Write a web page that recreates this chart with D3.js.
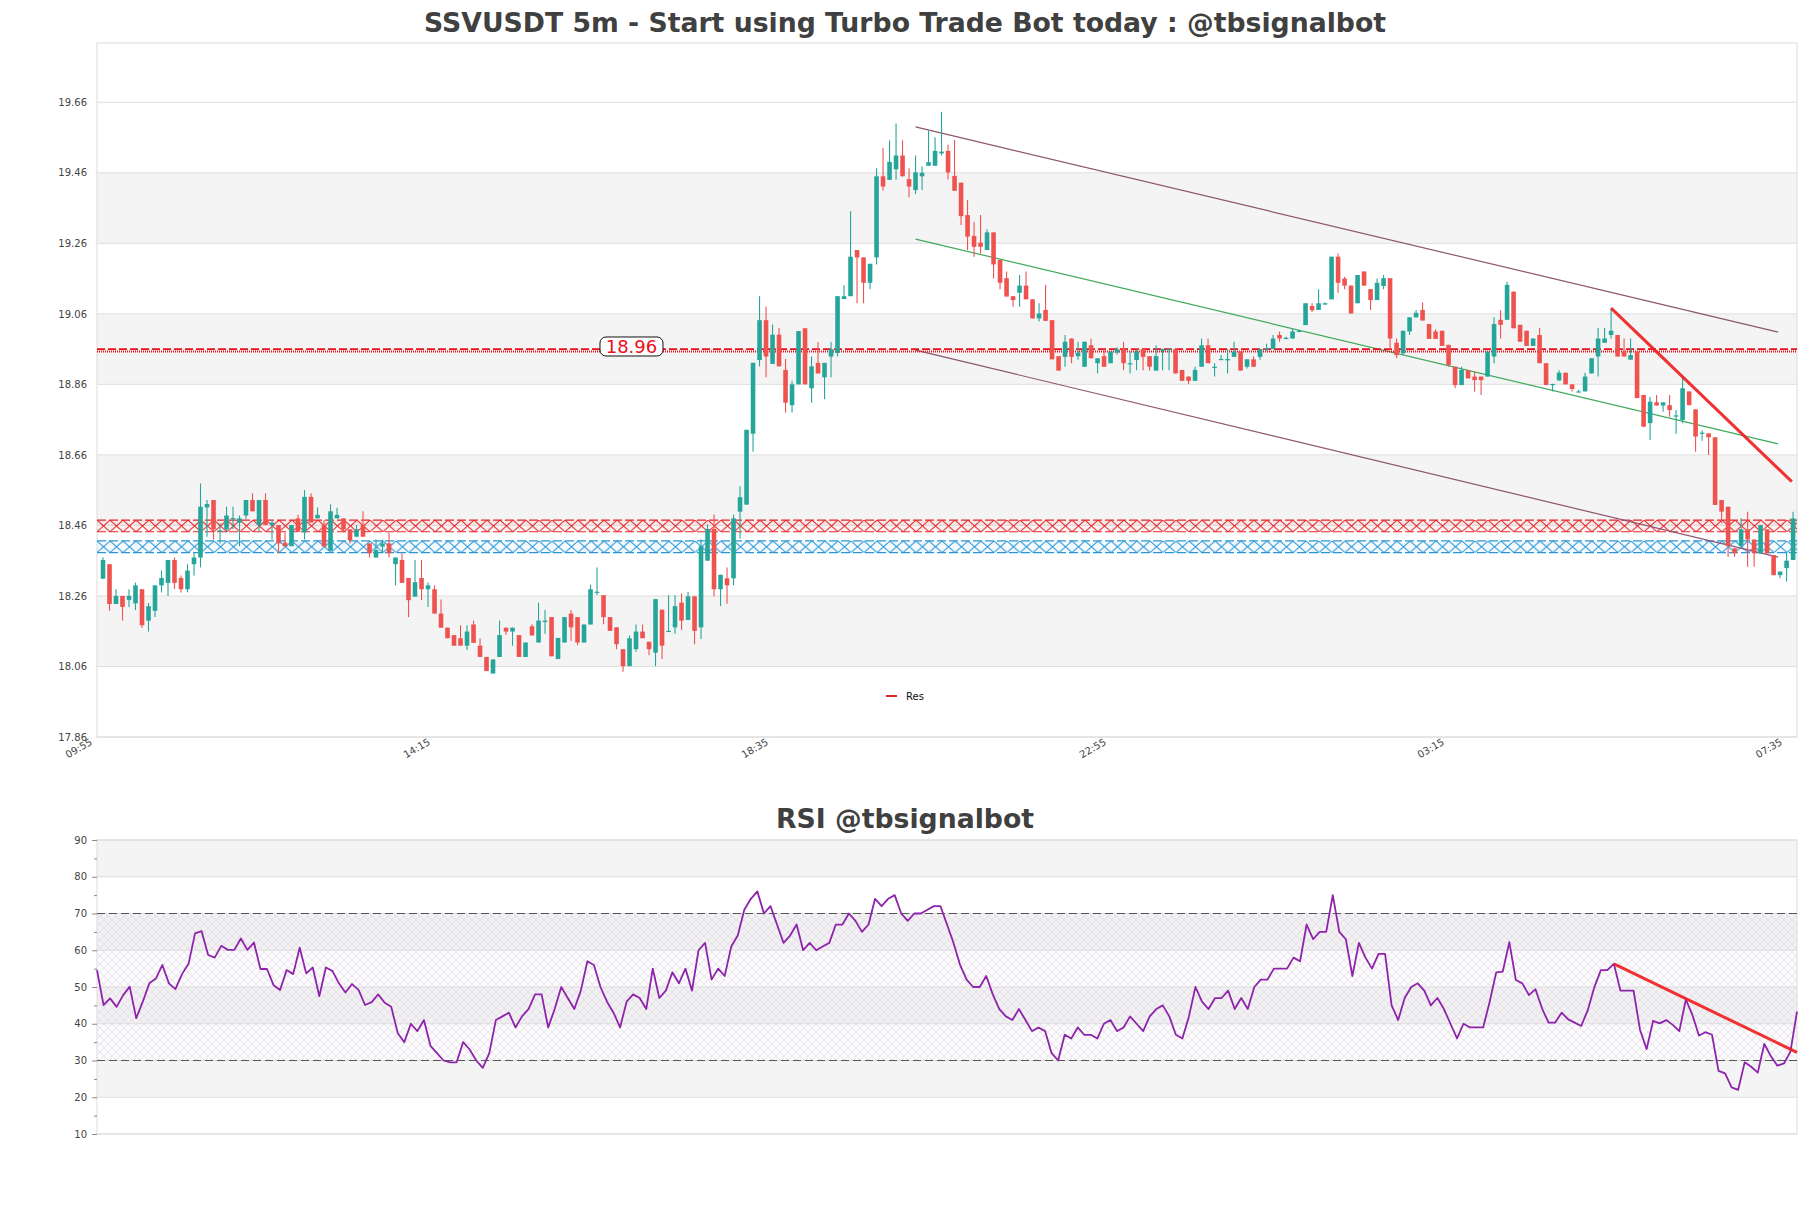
<!DOCTYPE html>
<html><head><meta charset="utf-8">
<script src="https://cdn.jsdelivr.net/npm/d3@7"></script>
<style>body{margin:0;background:#fff}svg{display:block}text{font-family:"DejaVu Sans",sans-serif}</style>
</head><body><svg id="c" width="1811" height="1208"></svg>
<script>
// ---------------- DATA ----------------
const opens = [
18.309,18.350,18.237,18.260,18.249,18.239,18.279,18.190,18.218,18.290,
18.297,18.362,18.311,18.279,18.350,18.369,18.511,18.532,18.443,18.449,
18.478,18.468,18.488,18.532,18.461,18.532,18.461,18.461,18.411,18.401,
18.480,18.440,18.541,18.480,18.461,18.388,18.480,18.480,18.449,18.428,
18.461,18.409,18.369,18.400,18.409,18.350,18.362,18.311,18.258,18.311,
18.279,18.279,18.210,18.170,18.149,18.140,18.119,18.179,18.119,18.087,
18.040,18.087,18.170,18.159,18.149,18.087,18.174,18.128,18.186,18.200,
18.081,18.128,18.210,18.200,18.128,18.179,18.270,18.262,18.200,18.171,
18.109,18.061,18.109,18.159,18.130,18.099,18.221,18.160,18.171,18.241,
18.192,18.259,18.171,18.360,18.450,18.279,18.310,18.310,18.499,18.519,
18.720,18.929,19.042,18.918,19.001,18.901,18.801,18.860,19.019,18.849,
18.921,18.880,18.939,18.949,19.102,19.110,19.241,19.220,19.148,19.220,
19.450,19.440,19.470,19.509,19.442,19.411,19.450,19.480,19.480,19.515,
19.522,19.451,19.432,19.340,19.281,19.262,19.241,19.291,19.213,19.161,
19.110,19.120,19.140,19.101,19.047,19.071,19.042,18.940,18.938,18.990,
18.940,18.910,18.971,18.920,18.940,18.920,18.950,18.960,18.918,18.929,
18.960,18.940,18.899,18.955,18.957,18.960,18.901,18.882,18.870,18.910,
18.971,18.908,18.930,18.928,18.938,18.953,18.910,18.931,18.938,18.960,
18.960,19.000,18.990,18.990,19.010,19.028,19.082,19.071,19.089,19.101,
19.222,19.160,19.140,19.090,19.180,19.130,19.099,19.139,19.161,18.978,
18.948,19.010,19.050,19.071,19.031,19.010,19.012,18.972,18.910,18.858,
18.900,18.882,18.882,18.882,18.939,19.043,19.043,19.123,19.029,19.012,
18.969,19.000,18.920,18.858,18.871,18.893,18.860,18.838,18.840,18.891,
18.939,18.978,19.000,19.000,18.953,18.930,18.953,18.830,18.750,18.809,
18.800,18.801,18.771,18.759,18.840,18.789,18.722,18.721,18.710,18.532,
18.513,18.395,18.402,18.449,18.420,18.381,18.449,18.376,18.319,18.339,
18.362];
const highs = [
18.369,18.350,18.279,18.260,18.279,18.298,18.279,18.240,18.290,18.332,
18.362,18.369,18.318,18.350,18.381,18.579,18.532,18.532,18.466,18.513,
18.513,18.488,18.532,18.551,18.532,18.551,18.475,18.461,18.440,18.461,
18.490,18.560,18.551,18.511,18.475,18.520,18.510,18.480,18.449,18.461,
18.500,18.409,18.420,18.420,18.440,18.369,18.381,18.311,18.362,18.362,
18.298,18.290,18.250,18.170,18.149,18.177,18.177,18.190,18.140,18.087,
18.080,18.190,18.170,18.170,18.149,18.128,18.180,18.241,18.220,18.200,
18.141,18.200,18.220,18.200,18.179,18.292,18.341,18.262,18.200,18.171,
18.109,18.148,18.179,18.179,18.130,18.251,18.221,18.262,18.262,18.267,
18.272,18.259,18.421,18.463,18.491,18.320,18.341,18.491,18.571,18.731,
18.921,19.110,19.081,19.030,19.020,18.932,18.870,19.011,19.019,18.939,
18.980,18.921,18.980,19.110,19.141,19.351,19.241,19.220,19.202,19.473,
19.530,19.552,19.600,19.552,19.473,19.509,19.478,19.579,19.561,19.633,
19.540,19.553,19.432,19.383,19.321,19.340,19.300,19.291,19.213,19.180,
19.110,19.170,19.180,19.101,19.090,19.142,19.042,18.940,19.000,18.990,
18.981,18.981,18.990,18.934,18.960,18.953,18.965,18.981,18.953,18.960,
18.960,18.940,18.971,18.962,18.962,18.960,18.901,18.882,18.910,18.990,
18.990,18.920,18.943,18.960,18.981,18.953,18.931,18.939,18.960,18.975,
19.000,19.010,18.995,19.019,19.015,19.090,19.090,19.130,19.092,19.222,
19.231,19.165,19.140,19.170,19.180,19.130,19.160,19.170,19.161,18.990,
19.012,19.050,19.071,19.092,19.031,19.016,19.012,18.972,18.910,18.910,
18.900,18.896,18.882,18.953,19.050,19.070,19.151,19.123,19.029,19.012,
18.990,19.020,18.920,18.862,18.900,18.893,18.860,18.845,18.893,18.934,
19.020,19.020,19.076,19.000,18.990,18.990,18.953,18.830,18.825,18.830,
18.809,18.830,18.787,18.882,18.840,18.789,18.730,18.721,18.710,18.532,
18.513,18.395,18.480,18.499,18.420,18.461,18.449,18.376,18.329,18.385,
18.499];
const lows = [
18.309,18.218,18.237,18.190,18.229,18.220,18.170,18.159,18.200,18.270,
18.260,18.280,18.270,18.270,18.318,18.341,18.428,18.420,18.409,18.440,
18.449,18.401,18.478,18.500,18.442,18.461,18.420,18.381,18.401,18.401,
18.442,18.420,18.468,18.480,18.400,18.388,18.480,18.440,18.409,18.428,
18.428,18.369,18.369,18.381,18.369,18.290,18.297,18.200,18.258,18.248,
18.229,18.210,18.170,18.140,18.119,18.119,18.107,18.127,18.087,18.047,
18.040,18.087,18.150,18.119,18.087,18.087,18.148,18.128,18.153,18.089,
18.081,18.128,18.133,18.120,18.128,18.179,18.262,18.180,18.161,18.109,
18.045,18.061,18.102,18.140,18.092,18.061,18.081,18.160,18.153,18.164,
18.192,18.123,18.138,18.360,18.259,18.231,18.238,18.290,18.422,18.519,
18.669,18.911,18.880,18.918,18.911,18.780,18.780,18.860,18.860,18.808,
18.891,18.818,18.880,18.939,19.102,19.110,19.090,19.090,19.130,19.200,
19.410,19.440,19.440,19.450,19.390,19.400,19.411,19.480,19.480,19.509,
19.441,19.409,19.312,19.241,19.222,19.231,19.241,19.160,19.130,19.109,
19.080,19.080,19.101,19.047,19.038,19.040,18.931,18.899,18.910,18.920,
18.930,18.910,18.934,18.891,18.910,18.920,18.945,18.900,18.891,18.900,
18.900,18.899,18.899,18.900,18.900,18.891,18.870,18.861,18.870,18.910,
18.920,18.882,18.930,18.891,18.938,18.899,18.905,18.910,18.930,18.955,
18.960,18.981,18.988,18.990,19.008,19.028,19.065,19.071,19.085,19.101,
19.120,19.130,19.061,19.090,19.140,19.071,19.099,19.130,18.957,18.934,
18.943,19.000,19.050,19.041,18.989,18.989,18.969,18.910,18.849,18.858,
18.877,18.839,18.830,18.882,18.920,18.990,19.043,19.019,18.981,18.969,
18.969,18.920,18.858,18.840,18.871,18.860,18.840,18.838,18.840,18.891,
18.882,18.978,18.990,18.939,18.939,18.930,18.821,18.740,18.702,18.800,
18.782,18.768,18.720,18.750,18.801,18.669,18.700,18.660,18.518,18.466,
18.371,18.371,18.402,18.343,18.343,18.381,18.381,18.319,18.310,18.301,
18.362];
const closes = [
18.362,18.237,18.260,18.229,18.260,18.290,18.177,18.231,18.290,18.311,
18.362,18.297,18.279,18.332,18.369,18.513,18.521,18.449,18.446,18.488,
18.481,18.480,18.532,18.500,18.532,18.461,18.468,18.409,18.401,18.461,
18.442,18.541,18.468,18.490,18.400,18.500,18.490,18.449,18.418,18.449,
18.428,18.381,18.390,18.409,18.381,18.369,18.297,18.248,18.299,18.279,
18.290,18.210,18.170,18.140,18.119,18.119,18.159,18.127,18.087,18.047,
18.080,18.149,18.159,18.170,18.087,18.128,18.148,18.190,18.190,18.089,
18.141,18.200,18.171,18.128,18.179,18.279,18.272,18.200,18.161,18.123,
18.061,18.140,18.159,18.140,18.109,18.251,18.119,18.161,18.231,18.190,
18.259,18.161,18.401,18.450,18.279,18.320,18.290,18.480,18.540,18.731,
18.921,19.042,18.939,19.001,18.911,18.808,18.860,19.011,18.860,18.911,
18.891,18.921,18.960,19.110,19.110,19.222,19.220,19.148,19.202,19.450,
19.421,19.491,19.509,19.450,19.421,19.461,19.460,19.490,19.522,19.520,
19.461,19.409,19.337,19.279,19.250,19.250,19.291,19.200,19.148,19.109,
19.099,19.140,19.101,19.047,19.061,19.040,18.931,18.899,18.981,18.938,
18.950,18.981,18.934,18.934,18.910,18.953,18.960,18.920,18.920,18.953,
18.938,18.910,18.940,18.960,18.960,18.891,18.870,18.870,18.901,18.971,
18.920,18.910,18.932,18.932,18.953,18.899,18.931,18.910,18.960,18.962,
18.990,18.990,18.992,19.010,19.012,19.090,19.070,19.090,19.090,19.222,
19.148,19.140,19.061,19.170,19.140,19.099,19.148,19.161,18.990,18.943,
19.012,19.050,19.063,19.041,18.989,18.989,18.969,18.915,18.858,18.901,
18.877,18.872,18.872,18.953,19.031,19.029,19.142,19.019,18.981,18.969,
18.990,18.920,18.858,18.861,18.893,18.860,18.847,18.840,18.882,18.934,
18.990,18.990,19.012,18.939,18.939,18.943,18.821,18.740,18.811,18.800,
18.809,18.787,18.772,18.849,18.801,18.712,18.723,18.710,18.518,18.499,
18.402,18.381,18.449,18.420,18.381,18.461,18.381,18.319,18.329,18.360,
18.480];
const rsi = [
54.6,45.1,46.9,44.6,47.8,50.1,41.5,46.0,51.0,52.3,
56.0,51.0,49.4,53.5,56.3,64.6,65.2,58.7,58.0,61.2,
60.1,60.1,63.2,60.1,62.1,54.9,54.9,50.5,49.2,54.6,
53.5,60.7,53.7,55.3,47.5,55.3,54.4,51.0,48.5,50.8,
49.2,45.1,45.9,48.0,45.7,44.6,37.4,35,40,38,
41,34,32,30,29.5,29.5,35,33,30,28,
32,41,42,43,39,42,44,48,48,39,
44,50,47,44,49,57,56,50,46,43,
39,46,48,47,44,55,47,49,54,51,
55,49,60,62,52,55,53,61,64,71,
74,76,70,72,67,62,64,67,60,62,
60,61,62,67,67,70,68,65,67,74,
72,74,75,70,68,70,70,71,72,72,
67,62,56,52,50,50,53,48,44,42,
41,44,41,38,39,38,32,30,37,36,
39,37,37,36,40,41,38,39,42,40,
38,42,44,45,42,37,36,42,50,46,
44,47,47,49,44,47,44,50,52,52,
55,55,55,58,57,67,63,65,65,75,
65,63,53,62,58,55,59,59,45,41,
47,50,51,49,45,47,44,40,36,40,
39,39,39,46,54,54.2,62.2,51.9,51.0,47.8,
49.4,44.2,40.3,40.3,43.0,41.2,40.3,39.4,43.7,49.9,
54.6,54.6,56.3,49.0,49.0,49.0,38.3,33.1,40.8,40.1,
41.0,39.7,38.0,46.6,42.4,36.8,37.7,37.0,27.2,26.5,
22.7,22.0,29.5,28.3,26.7,34.5,31.2,28.6,29.2,32.4,
43.3];
const timeTickIdx = [0, 52, 104, 156, 208, 260];
const timeLabels = ["09:55", "14:15", "18:35", "22:55", "03:15", "07:35"];
const priceTicks = [17.86, 18.06, 18.26, 18.46, 18.66, 18.86, 19.06, 19.26, 19.46, 19.66];
const rsiTicks = [10, 20, 30, 40, 50, 60, 70, 80, 90];
const rsiMinorTicks = [15, 25, 35, 45, 55, 65, 75, 85];
const rsiLevels = [30, 70];
const resLevel = 18.96;
const resLabel = "18.96";
const resBand = [18.442, 18.475];
const supBand = [18.383, 18.416];
const channelIdx = [125, 257.7];
const channelUpper = [19.590, 19.008];
const channelMid = [19.272, 18.691];
const channelLower = [18.957, 18.370];
const trendIdx = [232, 259.8];
const trendVals = [19.076, 18.584];
const rsiTrendIdx = [232, 260];
const rsiTrendVals = [56.3, 32.2];
const titleMain = "SSVUSDT 5m - Start using Turbo Trade Bot today : @tbsignalbot";
const titleRsi = "RSI @tbsignalbot";
const legendLabel = "Res";

// ---------------- LAYOUT ----------------
const svg = d3.select("#c");
const L = 97, R = 1797, T = 43, B = 737;
const RT = 840, RB = 1134;
const UP = "#26a69a", DN = "#ef5350";
const x = d3.scaleLinear().domain([-0.923, 260.6]).range([L, R]);
const y = d3.scaleLinear().domain([17.86, 19.828]).range([B, T]);
const xr = d3.scaleLinear().domain([0, 260]).range([L, R]);
const yr = d3.scaleLinear().domain([10, 90]).range([RB, RT]);

const defs = svg.append("defs");
function xPattern(id, color, top, h) {
  const p = defs.append("pattern").attr("id", id).attr("patternUnits", "userSpaceOnUse")
    .attr("x", L).attr("y", top).attr("width", 13).attr("height", h);
  p.append("path").attr("d", `M0,0L13,${h}M13,0L0,${h}`).attr("stroke", color)
    .attr("stroke-width", 1).attr("fill", "none");
}
const rbTop = y(resBand[1]), rbH = y(resBand[0]) - y(resBand[1]);
const sbTop = y(supBand[1]), sbH = y(supBand[0]) - y(supBand[1]);
xPattern("hr", "#e8262a", rbTop, rbH);
xPattern("hb", "#2a96d6", sbTop, sbH);
const rp = defs.append("pattern").attr("id", "hrsi").attr("patternUnits", "userSpaceOnUse")
  .attr("width", 8).attr("height", 8);
rp.append("path").attr("d", "M0,0L8,8M8,0L0,8").attr("stroke", "#ddd2e4").attr("stroke-width", 0.6);

// titles
svg.append("text").attr("x", 905).attr("y", 32).attr("text-anchor", "middle")
  .attr("font-size", 26.7).attr("font-weight", "bold").attr("fill", "#404040").text(titleMain);
svg.append("text").attr("x", 905).attr("y", 828).attr("text-anchor", "middle")
  .attr("font-size", 26.7).attr("font-weight", "bold").attr("fill", "#404040").text(titleRsi);

// ---------- main panel ----------
const g = svg.append("g");
g.append("rect").attr("x", L).attr("y", T).attr("width", R - L).attr("height", B - T).attr("fill", "#fff");
priceTicks.forEach((v, k) => {
  if (k % 2 === 1 && k + 1 < priceTicks.length)
    g.append("rect").attr("x", L).attr("width", R - L).attr("y", y(priceTicks[k + 1]))
      .attr("height", y(v) - y(priceTicks[k + 1])).attr("fill", "#f4f4f4");
});
g.selectAll(".gl").data(priceTicks).join("line").attr("x1", L).attr("x2", R)
  .attr("y1", d => y(d)).attr("y2", d => y(d)).attr("stroke", "#dedede").attr("stroke-width", 1);
g.append("rect").attr("x", L).attr("y", T).attr("width", R - L).attr("height", B - T)
  .attr("fill", "none").attr("stroke", "#dcdcdc");

// hatched bands
function band(top, h, pat, color) {
  g.append("rect").attr("x", L).attr("width", R - L).attr("y", top).attr("height", h)
    .attr("fill", color).attr("fill-opacity", 0.05);
  g.append("rect").attr("x", L).attr("width", R - L).attr("y", top).attr("height", h)
    .attr("fill", `url(#${pat})`);
  [top, top + h].forEach(yy => g.append("line").attr("x1", L).attr("x2", R).attr("y1", yy).attr("y2", yy)
    .attr("stroke", color).attr("stroke-width", 1.2).attr("stroke-dasharray", "9,3"));
}
band(rbTop, rbH, "hr", "#e8262a");
band(sbTop, sbH, "hb", "#2a96d6");

// channel
const seg = (xs, vs) => d3.line()(xs.map((i, k) => [x(i), y(vs[k])]));
g.append("path").attr("d", seg(channelIdx, channelUpper)).attr("stroke", "#8d5470").attr("stroke-width", 1.2).attr("fill", "none");
g.append("path").attr("d", seg(channelIdx, channelLower)).attr("stroke", "#8d5470").attr("stroke-width", 1.2).attr("fill", "none");
g.append("path").attr("d", seg(channelIdx, channelMid)).attr("stroke", "#3faa5a").attr("stroke-width", 1.2).attr("fill", "none");

// resistance line
g.append("line").attr("x1", L).attr("x2", R).attr("y1", y(resLevel)).attr("y2", y(resLevel))
  .attr("stroke", "#e8101a").attr("stroke-width", 1.8).attr("stroke-dasharray", "8,3");
g.append("line").attr("x1", L).attr("x2", R).attr("y1", y(resLevel) + 2.4).attr("y2", y(resLevel) + 2.4)
  .attr("stroke", "#e8101a").attr("stroke-width", 1.8).attr("stroke-dasharray", "1,1");

// candles
const cw = 4.6;
const cs = g.append("g");
opens.forEach((o, i) => {
  const c = closes[i], col = c >= o ? UP : DN;
  cs.append("line").attr("x1", x(i)).attr("x2", x(i)).attr("y1", y(highs[i])).attr("y2", y(lows[i]))
    .attr("stroke", col).attr("stroke-width", 1.1);
  const top = y(Math.max(o, c)), h = Math.max(1.2, Math.abs(y(o) - y(c)));
  cs.append("rect").attr("x", x(i) - cw / 2).attr("y", top).attr("width", cw).attr("height", h).attr("fill", col);
});

// trend line
g.append("path").attr("d", seg(trendIdx, trendVals)).attr("stroke", "#ee1c1c").attr("stroke-width", 3)
  .attr("stroke-opacity", 0.9).attr("fill", "none");

// res label
const lx = x(81.3), ly = y(resLevel) - 2.6;
g.append("rect").attr("x", lx - 31.5).attr("y", ly - 9.5).attr("width", 63).attr("height", 19).attr("rx", 6)
  .attr("fill", "#fff").attr("stroke", "#111").attr("stroke-width", 1);
g.append("text").attr("x", lx).attr("y", ly + 6.5).attr("text-anchor", "middle").attr("font-size", 18)
  .attr("fill", "#e8101a").text(resLabel);

// axes
const ya = g.append("g").attr("transform", `translate(${L},0)`)
  .call(d3.axisLeft(y).tickValues(priceTicks).tickSize(0).tickPadding(10).tickFormat(d3.format(".2f")));
ya.select(".domain").remove();
ya.selectAll("text").attr("font-size", 10).attr("fill", "#444").attr("font-family", "DejaVu Sans");
timeTickIdx.forEach((i, k) => {
  g.append("text").attr("transform", `translate(${x(i) - 10},744) rotate(-30)`).attr("text-anchor", "end")
    .attr("font-size", 10).attr("fill", "#444").text(timeLabels[k]);
});

// legend
g.append("line").attr("x1", 886).attr("x2", 897).attr("y1", 696).attr("y2", 696).attr("stroke", "#d62728").attr("stroke-width", 2);
g.append("text").attr("x", 906).attr("y", 699.5).attr("font-size", 10).attr("fill", "#111").text(legendLabel);

// ---------- RSI panel ----------
const r = svg.append("g");
rsiTicks.forEach((v, k) => {
  if (k % 2 === 1 && k + 1 < rsiTicks.length)
    r.append("rect").attr("x", L).attr("width", R - L).attr("y", yr(rsiTicks[k + 1]))
      .attr("height", yr(v) - yr(rsiTicks[k + 1])).attr("fill", "#f4f4f4");
});
r.append("rect").attr("x", L).attr("width", R - L).attr("y", yr(rsiLevels[1]))
  .attr("height", yr(rsiLevels[0]) - yr(rsiLevels[1])).attr("fill", "#c8b0d8").attr("fill-opacity", 0.04);
r.append("rect").attr("x", L).attr("width", R - L).attr("y", yr(rsiLevels[1]))
  .attr("height", yr(rsiLevels[0]) - yr(rsiLevels[1])).attr("fill", "url(#hrsi)");
r.selectAll(".gl").data(rsiTicks).join("line").attr("x1", L).attr("x2", R)
  .attr("y1", d => yr(d)).attr("y2", d => yr(d)).attr("stroke", "#dedede");
r.append("rect").attr("x", L).attr("y", RT).attr("width", R - L).attr("height", RB - RT)
  .attr("fill", "none").attr("stroke", "#dcdcdc");
rsiLevels.forEach(v => r.append("line").attr("x1", L).attr("x2", R).attr("y1", yr(v)).attr("y2", yr(v))
  .attr("stroke", "#555").attr("stroke-width", 1.2).attr("stroke-dasharray", "8,4"));
r.append("path").attr("d", d3.line().x((d, i) => xr(i)).y(d => yr(d))(rsi))
  .attr("stroke", "#8e24aa").attr("stroke-width", 1.8).attr("fill", "none").attr("stroke-linejoin", "round");
r.append("path").attr("d", d3.line()(rsiTrendIdx.map((i, k) => [xr(i), yr(rsiTrendVals[k])])))
  .attr("stroke", "#ee1c1c").attr("stroke-width", 3).attr("stroke-opacity", 0.9).attr("fill", "none");
const ra = r.append("g").attr("transform", `translate(${L},0)`)
  .call(d3.axisLeft(yr).tickValues(rsiTicks).tickSize(5).tickPadding(5).tickFormat(d3.format("d")));
ra.select(".domain").remove();
ra.selectAll("line").attr("stroke", "#888");
ra.selectAll("text").attr("font-size", 10).attr("fill", "#444").attr("font-family", "DejaVu Sans");
const rm = r.append("g").attr("transform", `translate(${L},0)`)
  .call(d3.axisLeft(yr).tickValues(rsiMinorTicks).tickSize(3).tickFormat(""));
rm.select(".domain").remove();
rm.selectAll("line").attr("stroke", "#888");
</script></body></html>
